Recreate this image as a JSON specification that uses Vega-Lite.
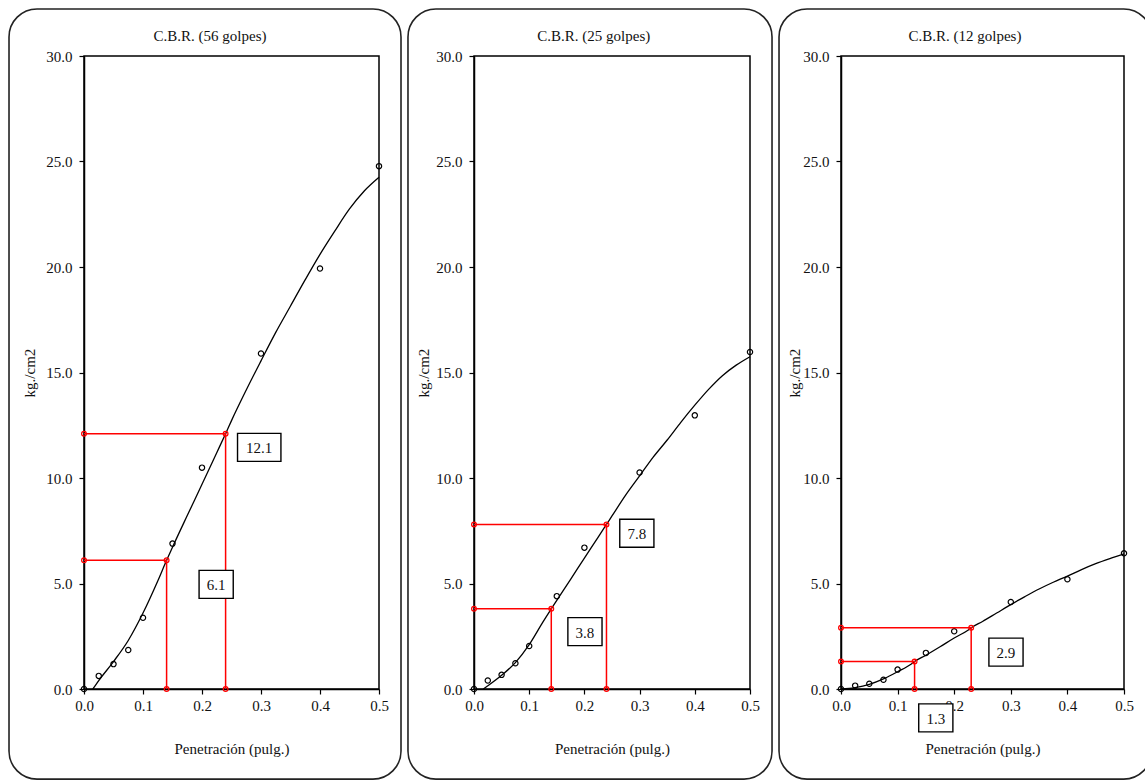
{
  "$schema": "https://vega.github.io/schema/vega-lite/v6.json",
  "padding": {"left": 7, "top": 7, "right": 0, "bottom": 0},
  "spacing": 3,
  "datasets": {
    "lecturas": [
      {"ensayo": "56", "pen": 0.0, "carga": 0.0},
      {"ensayo": "56", "pen": 0.025, "carga": 0.62},
      {"ensayo": "56", "pen": 0.05, "carga": 1.18},
      {"ensayo": "56", "pen": 0.075, "carga": 1.85},
      {"ensayo": "56", "pen": 0.1, "carga": 3.38},
      {"ensayo": "56", "pen": 0.15, "carga": 6.89},
      {"ensayo": "56", "pen": 0.2, "carga": 10.49},
      {"ensayo": "56", "pen": 0.3, "carga": 15.9},
      {"ensayo": "56", "pen": 0.4, "carga": 19.93},
      {"ensayo": "56", "pen": 0.5, "carga": 24.78},
      {"ensayo": "25", "pen": 0.0, "carga": 0.0},
      {"ensayo": "25", "pen": 0.025, "carga": 0.4},
      {"ensayo": "25", "pen": 0.05, "carga": 0.67},
      {"ensayo": "25", "pen": 0.075, "carga": 1.22},
      {"ensayo": "25", "pen": 0.1, "carga": 2.04},
      {"ensayo": "25", "pen": 0.15, "carga": 4.4},
      {"ensayo": "25", "pen": 0.2, "carga": 6.7},
      {"ensayo": "25", "pen": 0.3, "carga": 10.26},
      {"ensayo": "25", "pen": 0.4, "carga": 12.97},
      {"ensayo": "25", "pen": 0.5, "carga": 15.97},
      {"ensayo": "12", "pen": 0.0, "carga": 0.0},
      {"ensayo": "12", "pen": 0.025, "carga": 0.16},
      {"ensayo": "12", "pen": 0.05, "carga": 0.25},
      {"ensayo": "12", "pen": 0.075, "carga": 0.44},
      {"ensayo": "12", "pen": 0.1, "carga": 0.92},
      {"ensayo": "12", "pen": 0.15, "carga": 1.71},
      {"ensayo": "12", "pen": 0.2, "carga": 2.74},
      {"ensayo": "12", "pen": 0.3, "carga": 4.12},
      {"ensayo": "12", "pen": 0.4, "carga": 5.2},
      {"ensayo": "12", "pen": 0.5, "carga": 6.43}
    ],
    "curva": [
      {"ensayo": "56", "pen": 0.015, "carga": 0.0},
      {"ensayo": "56", "pen": 0.025, "carga": 0.4},
      {"ensayo": "56", "pen": 0.05, "carga": 1.3},
      {"ensayo": "56", "pen": 0.075, "carga": 2.3},
      {"ensayo": "56", "pen": 0.1, "carga": 3.6},
      {"ensayo": "56", "pen": 0.125, "carga": 5.12},
      {"ensayo": "56", "pen": 0.14, "carga": 6.1},
      {"ensayo": "56", "pen": 0.15, "carga": 6.72},
      {"ensayo": "56", "pen": 0.175, "carga": 8.22},
      {"ensayo": "56", "pen": 0.2, "carga": 9.7},
      {"ensayo": "56", "pen": 0.225, "carga": 11.2},
      {"ensayo": "56", "pen": 0.24, "carga": 12.1},
      {"ensayo": "56", "pen": 0.25, "carga": 12.72},
      {"ensayo": "56", "pen": 0.275, "carga": 14.17},
      {"ensayo": "56", "pen": 0.3, "carga": 15.55},
      {"ensayo": "56", "pen": 0.325, "carga": 16.9},
      {"ensayo": "56", "pen": 0.35, "carga": 18.15},
      {"ensayo": "56", "pen": 0.375, "carga": 19.4},
      {"ensayo": "56", "pen": 0.4, "carga": 20.6},
      {"ensayo": "56", "pen": 0.425, "carga": 21.7},
      {"ensayo": "56", "pen": 0.45, "carga": 22.75},
      {"ensayo": "56", "pen": 0.475, "carga": 23.6},
      {"ensayo": "56", "pen": 0.5, "carga": 24.25},
      {"ensayo": "25", "pen": 0.017, "carga": 0.0},
      {"ensayo": "25", "pen": 0.025, "carga": 0.15},
      {"ensayo": "25", "pen": 0.05, "carga": 0.65},
      {"ensayo": "25", "pen": 0.075, "carga": 1.25},
      {"ensayo": "25", "pen": 0.1, "carga": 2.1},
      {"ensayo": "25", "pen": 0.125, "carga": 3.18},
      {"ensayo": "25", "pen": 0.14, "carga": 3.8},
      {"ensayo": "25", "pen": 0.15, "carga": 4.2},
      {"ensayo": "25", "pen": 0.175, "carga": 5.2},
      {"ensayo": "25", "pen": 0.2, "carga": 6.2},
      {"ensayo": "25", "pen": 0.225, "carga": 7.2},
      {"ensayo": "25", "pen": 0.24, "carga": 7.8},
      {"ensayo": "25", "pen": 0.25, "carga": 8.2},
      {"ensayo": "25", "pen": 0.275, "carga": 9.2},
      {"ensayo": "25", "pen": 0.3, "carga": 10.1},
      {"ensayo": "25", "pen": 0.325, "carga": 11.0},
      {"ensayo": "25", "pen": 0.35, "carga": 11.8},
      {"ensayo": "25", "pen": 0.375, "carga": 12.65},
      {"ensayo": "25", "pen": 0.4, "carga": 13.45},
      {"ensayo": "25", "pen": 0.425, "carga": 14.2},
      {"ensayo": "25", "pen": 0.45, "carga": 14.85},
      {"ensayo": "25", "pen": 0.475, "carga": 15.35},
      {"ensayo": "25", "pen": 0.5, "carga": 15.75},
      {"ensayo": "12", "pen": 0.0, "carga": 0.0},
      {"ensayo": "12", "pen": 0.025, "carga": 0.07},
      {"ensayo": "12", "pen": 0.05, "carga": 0.22},
      {"ensayo": "12", "pen": 0.075, "carga": 0.48},
      {"ensayo": "12", "pen": 0.1, "carga": 0.82},
      {"ensayo": "12", "pen": 0.125, "carga": 1.2},
      {"ensayo": "12", "pen": 0.13, "carga": 1.3},
      {"ensayo": "12", "pen": 0.15, "carga": 1.6},
      {"ensayo": "12", "pen": 0.175, "carga": 2.0},
      {"ensayo": "12", "pen": 0.2, "carga": 2.42},
      {"ensayo": "12", "pen": 0.225, "carga": 2.8},
      {"ensayo": "12", "pen": 0.23, "carga": 2.9},
      {"ensayo": "12", "pen": 0.25, "carga": 3.2},
      {"ensayo": "12", "pen": 0.275, "carga": 3.6},
      {"ensayo": "12", "pen": 0.3, "carga": 4.0},
      {"ensayo": "12", "pen": 0.325, "carga": 4.38},
      {"ensayo": "12", "pen": 0.35, "carga": 4.74},
      {"ensayo": "12", "pen": 0.375, "carga": 5.06},
      {"ensayo": "12", "pen": 0.4, "carga": 5.35},
      {"ensayo": "12", "pen": 0.425, "carga": 5.66},
      {"ensayo": "12", "pen": 0.45, "carga": 5.94},
      {"ensayo": "12", "pen": 0.475, "carga": 6.18},
      {"ensayo": "12", "pen": 0.5, "carga": 6.4}
    ],
    "guias": [
      {"ensayo": "56", "guia": "0.1", "orden": 1, "pen": 0.0, "carga": 6.1},
      {"ensayo": "56", "guia": "0.1", "orden": 2, "pen": 0.14, "carga": 6.1},
      {"ensayo": "56", "guia": "0.1", "orden": 3, "pen": 0.14, "carga": 0.0},
      {"ensayo": "56", "guia": "0.2", "orden": 1, "pen": 0.0, "carga": 12.1},
      {"ensayo": "56", "guia": "0.2", "orden": 2, "pen": 0.24, "carga": 12.1},
      {"ensayo": "56", "guia": "0.2", "orden": 3, "pen": 0.24, "carga": 0.0},
      {"ensayo": "25", "guia": "0.1", "orden": 1, "pen": 0.0, "carga": 3.8},
      {"ensayo": "25", "guia": "0.1", "orden": 2, "pen": 0.14, "carga": 3.8},
      {"ensayo": "25", "guia": "0.1", "orden": 3, "pen": 0.14, "carga": 0.0},
      {"ensayo": "25", "guia": "0.2", "orden": 1, "pen": 0.0, "carga": 7.8},
      {"ensayo": "25", "guia": "0.2", "orden": 2, "pen": 0.24, "carga": 7.8},
      {"ensayo": "25", "guia": "0.2", "orden": 3, "pen": 0.24, "carga": 0.0},
      {"ensayo": "12", "guia": "0.1", "orden": 1, "pen": 0.0, "carga": 1.3},
      {"ensayo": "12", "guia": "0.1", "orden": 2, "pen": 0.13, "carga": 1.3},
      {"ensayo": "12", "guia": "0.1", "orden": 3, "pen": 0.13, "carga": 0.0},
      {"ensayo": "12", "guia": "0.2", "orden": 1, "pen": 0.0, "carga": 2.9},
      {"ensayo": "12", "guia": "0.2", "orden": 2, "pen": 0.23, "carga": 2.9},
      {"ensayo": "12", "guia": "0.2", "orden": 3, "pen": 0.23, "carga": 0.0}
    ],
    "cbr": [
      {"ensayo": "56", "valor": 6.1, "pen": 0.224, "carga": 4.96},
      {"ensayo": "56", "valor": 12.1, "pen": 0.297, "carga": 11.45},
      {"ensayo": "25", "valor": 3.8, "pen": 0.201, "carga": 2.72},
      {"ensayo": "25", "valor": 7.8, "pen": 0.295, "carga": 7.38},
      {"ensayo": "12", "valor": 1.3, "pen": 0.1675, "carga": -1.37},
      {"ensayo": "12", "valor": 2.9, "pen": 0.2915, "carga": 1.75}
    ]
  },
  "hconcat": [
    {
      "width": 295,
      "height": 633,
      "layer": [
        {"data": {"values": [{"marco": 1}]}, "mark": {"type": "rect", "fill": "#fff", "fillOpacity": 0, "stroke": "#222", "strokeWidth": 1.6, "cornerRadius": 28},
         "encoding": {"x": {"datum": -0.1271, "type": "quantitative"}, "x2": {"datum": 0.5373}, "y": {"datum": 32.23, "type": "quantitative"}, "y2": {"datum": -4.27}}},
        {"data": {"values": [{"titulo": "C.B.R. (56 golpes)"}]}, "mark": {"type": "text", "font": "Liberation Serif", "fontSize": 15, "color": "#111", "align": "center", "baseline": "middle"},
         "encoding": {"x": {"datum": 0.2136, "type": "quantitative"}, "y": {"datum": 30.95, "type": "quantitative"}, "text": {"field": "titulo"}}},
        {"data": {"name": "curva"}, "transform": [{"filter": "datum.ensayo == '56'"}], "mark": {"type": "line", "interpolate": "monotone", "color": "#000", "strokeWidth": 1.3},
         "encoding": {
           "x": {"field": "pen", "type": "quantitative", "scale": {"domain": [0, 0.5], "nice": false, "zero": false}, "axis": {"title": "Penetración (pulg.)", "values": [0, 0.1, 0.2, 0.3, 0.4, 0.5], "format": ".1f"}},
           "y": {"field": "carga", "type": "quantitative", "scale": {"domain": [0, 30], "nice": false, "zero": false}, "axis": {"title": "kg./cm2", "values": [0, 5, 10, 15, 20, 25, 30], "format": ".1f", "titlePadding": 8}}}},
        {"data": {"name": "lecturas"}, "transform": [{"filter": "datum.ensayo == '56'"}], "mark": {"type": "point", "shape": "circle", "filled": false, "color": "#000", "size": 28, "strokeWidth": 1.2, "opacity": 1},
         "encoding": {"x": {"field": "pen", "type": "quantitative"}, "y": {"field": "carga", "type": "quantitative"}}},
        {"data": {"name": "guias"}, "transform": [{"filter": "datum.ensayo == '56'"}],
         "mark": {"type": "line", "color": "#ff0000", "strokeWidth": 1.5, "point": {"shape": "circle", "filled": false, "color": "#ff0000", "size": 22, "strokeWidth": 1.3, "opacity": 1}},
         "encoding": {"x": {"field": "pen", "type": "quantitative"}, "y": {"field": "carga", "type": "quantitative"}, "detail": {"field": "guia"}, "order": {"field": "orden"}}},
        {"data": {"name": "cbr"}, "transform": [{"filter": "datum.ensayo == '56'"}], "mark": {"type": "point", "fill": "#fff", "stroke": "#000", "strokeWidth": 1.4, "size": 784, "opacity": 1, "fillOpacity": 1},
         "encoding": {"x": {"field": "pen", "type": "quantitative"}, "y": {"field": "carga", "type": "quantitative"},
           "shape": {"condition": {"test": "datum.valor >= 10", "value": "M-1.55,-1L1.55,-1L1.55,1L-1.55,1Z"}, "value": "M-1.22,-1L1.22,-1L1.22,1L-1.22,1Z"}}},
        {"data": {"name": "cbr"}, "transform": [{"filter": "datum.ensayo == '56'"}], "mark": {"type": "text", "font": "Liberation Serif", "fontSize": 15, "color": "#111", "align": "center", "baseline": "middle", "dy": 1},
         "encoding": {"x": {"field": "pen", "type": "quantitative"}, "y": {"field": "carga", "type": "quantitative"}, "text": {"field": "valor", "type": "quantitative", "format": ".1f"}}}
      ]
    },
    {
      "width": 276,
      "height": 633,
      "layer": [
        {"data": {"values": [{"marco": 1}]}, "mark": {"type": "rect", "fill": "#fff", "fillOpacity": 0, "stroke": "#222", "strokeWidth": 1.6, "cornerRadius": 28},
         "encoding": {"x": {"datum": -0.1196, "type": "quantitative"}, "x2": {"datum": 0.5399}, "y": {"datum": 32.23, "type": "quantitative"}, "y2": {"datum": -4.27}}},
        {"data": {"values": [{"titulo": "C.B.R. (25 golpes)"}]}, "mark": {"type": "text", "font": "Liberation Serif", "fontSize": 15, "color": "#111", "align": "center", "baseline": "middle"},
         "encoding": {"x": {"datum": 0.217, "type": "quantitative"}, "y": {"datum": 30.95, "type": "quantitative"}, "text": {"field": "titulo"}}},
        {"data": {"name": "curva"}, "transform": [{"filter": "datum.ensayo == '25'"}], "mark": {"type": "line", "interpolate": "monotone", "color": "#000", "strokeWidth": 1.3},
         "encoding": {
           "x": {"field": "pen", "type": "quantitative", "scale": {"domain": [0, 0.5], "nice": false, "zero": false}, "axis": {"title": "Penetración (pulg.)", "values": [0, 0.1, 0.2, 0.3, 0.4, 0.5], "format": ".1f"}},
           "y": {"field": "carga", "type": "quantitative", "scale": {"domain": [0, 30], "nice": false, "zero": false}, "axis": {"title": "kg./cm2", "values": [0, 5, 10, 15, 20, 25, 30], "format": ".1f", "titlePadding": 4}}}},
        {"data": {"name": "lecturas"}, "transform": [{"filter": "datum.ensayo == '25'"}], "mark": {"type": "point", "shape": "circle", "filled": false, "color": "#000", "size": 28, "strokeWidth": 1.2, "opacity": 1},
         "encoding": {"x": {"field": "pen", "type": "quantitative"}, "y": {"field": "carga", "type": "quantitative"}}},
        {"data": {"name": "guias"}, "transform": [{"filter": "datum.ensayo == '25'"}],
         "mark": {"type": "line", "color": "#ff0000", "strokeWidth": 1.5, "point": {"shape": "circle", "filled": false, "color": "#ff0000", "size": 22, "strokeWidth": 1.3, "opacity": 1}},
         "encoding": {"x": {"field": "pen", "type": "quantitative"}, "y": {"field": "carga", "type": "quantitative"}, "detail": {"field": "guia"}, "order": {"field": "orden"}}},
        {"data": {"name": "cbr"}, "transform": [{"filter": "datum.ensayo == '25'"}], "mark": {"type": "point", "fill": "#fff", "stroke": "#000", "strokeWidth": 1.4, "size": 784, "opacity": 1, "fillOpacity": 1},
         "encoding": {"x": {"field": "pen", "type": "quantitative"}, "y": {"field": "carga", "type": "quantitative"},
           "shape": {"condition": {"test": "datum.valor >= 10", "value": "M-1.55,-1L1.55,-1L1.55,1L-1.55,1Z"}, "value": "M-1.22,-1L1.22,-1L1.22,1L-1.22,1Z"}}},
        {"data": {"name": "cbr"}, "transform": [{"filter": "datum.ensayo == '25'"}], "mark": {"type": "text", "font": "Liberation Serif", "fontSize": 15, "color": "#111", "align": "center", "baseline": "middle", "dy": 1},
         "encoding": {"x": {"field": "pen", "type": "quantitative"}, "y": {"field": "carga", "type": "quantitative"}, "text": {"field": "valor", "type": "quantitative", "format": ".1f"}}}
      ]
    },
    {
      "width": 283,
      "height": 633,
      "layer": [
        {"data": {"values": [{"marco": 1}]}, "mark": {"type": "rect", "fill": "#fff", "fillOpacity": 0, "stroke": "#222", "strokeWidth": 1.6, "cornerRadius": 28},
         "encoding": {"x": {"datum": -0.1095, "type": "quantitative"}, "x2": {"datum": 0.549}, "y": {"datum": 32.23, "type": "quantitative"}, "y2": {"datum": -4.27}}},
        {"data": {"values": [{"titulo": "C.B.R. (12 golpes)"}]}, "mark": {"type": "text", "font": "Liberation Serif", "fontSize": 15, "color": "#111", "align": "center", "baseline": "middle"},
         "encoding": {"x": {"datum": 0.219, "type": "quantitative"}, "y": {"datum": 30.95, "type": "quantitative"}, "text": {"field": "titulo"}}},
        {"data": {"name": "curva"}, "transform": [{"filter": "datum.ensayo == '12'"}], "mark": {"type": "line", "interpolate": "monotone", "color": "#000", "strokeWidth": 1.3},
         "encoding": {
           "x": {"field": "pen", "type": "quantitative", "scale": {"domain": [0, 0.5], "nice": false, "zero": false}, "axis": {"title": "Penetración (pulg.)", "values": [0, 0.1, 0.2, 0.3, 0.4, 0.5], "format": ".1f"}},
           "y": {"field": "carga", "type": "quantitative", "scale": {"domain": [0, 30], "nice": false, "zero": false}, "axis": {"title": "kg./cm2", "values": [0, 5, 10, 15, 20, 25, 30], "format": ".1f", "titlePadding": 0}}}},
        {"data": {"name": "lecturas"}, "transform": [{"filter": "datum.ensayo == '12'"}], "mark": {"type": "point", "shape": "circle", "filled": false, "color": "#000", "size": 28, "strokeWidth": 1.2, "opacity": 1},
         "encoding": {"x": {"field": "pen", "type": "quantitative"}, "y": {"field": "carga", "type": "quantitative"}}},
        {"data": {"name": "guias"}, "transform": [{"filter": "datum.ensayo == '12'"}],
         "mark": {"type": "line", "color": "#ff0000", "strokeWidth": 1.5, "point": {"shape": "circle", "filled": false, "color": "#ff0000", "size": 22, "strokeWidth": 1.3, "opacity": 1}},
         "encoding": {"x": {"field": "pen", "type": "quantitative"}, "y": {"field": "carga", "type": "quantitative"}, "detail": {"field": "guia"}, "order": {"field": "orden"}}},
        {"data": {"name": "cbr"}, "transform": [{"filter": "datum.ensayo == '12'"}], "mark": {"type": "point", "fill": "#fff", "stroke": "#000", "strokeWidth": 1.4, "size": 784, "opacity": 1, "fillOpacity": 1},
         "encoding": {"x": {"field": "pen", "type": "quantitative"}, "y": {"field": "carga", "type": "quantitative"},
           "shape": {"condition": {"test": "datum.valor >= 10", "value": "M-1.55,-1L1.55,-1L1.55,1L-1.55,1Z"}, "value": "M-1.22,-1L1.22,-1L1.22,1L-1.22,1Z"}}},
        {"data": {"name": "cbr"}, "transform": [{"filter": "datum.ensayo == '12'"}], "mark": {"type": "text", "font": "Liberation Serif", "fontSize": 15, "color": "#111", "align": "center", "baseline": "middle", "dy": 1},
         "encoding": {"x": {"field": "pen", "type": "quantitative"}, "y": {"field": "carga", "type": "quantitative"}, "text": {"field": "valor", "type": "quantitative", "format": ".1f"}}}
      ]
    }
  ],
  "config": {
    "font": "Liberation Serif",
    "background": "#ffffff",
    "view": {"stroke": "#000", "strokeWidth": 1.5},
    "axis": {
      "labelFont": "Liberation Serif", "labelFontSize": 15, "labelColor": "#111", "labelFlush": false, "labelOverlap": false,
      "titleFont": "Liberation Serif", "titleFontSize": 15, "titleFontWeight": "normal", "titleColor": "#111",
      "gridColor": "#c4c4c4", "gridWidth": 1.2, "gridOpacity": 1,
      "domainColor": "#000", "domainWidth": 1.5, "tickColor": "#000", "tickSize": 5, "tickWidth": 1.2
    },
    "axisX": {"labelPadding": 4, "titlePadding": 28, "labelAngle": 0},
    "axisY": {"labelPadding": 7}
  }
}
